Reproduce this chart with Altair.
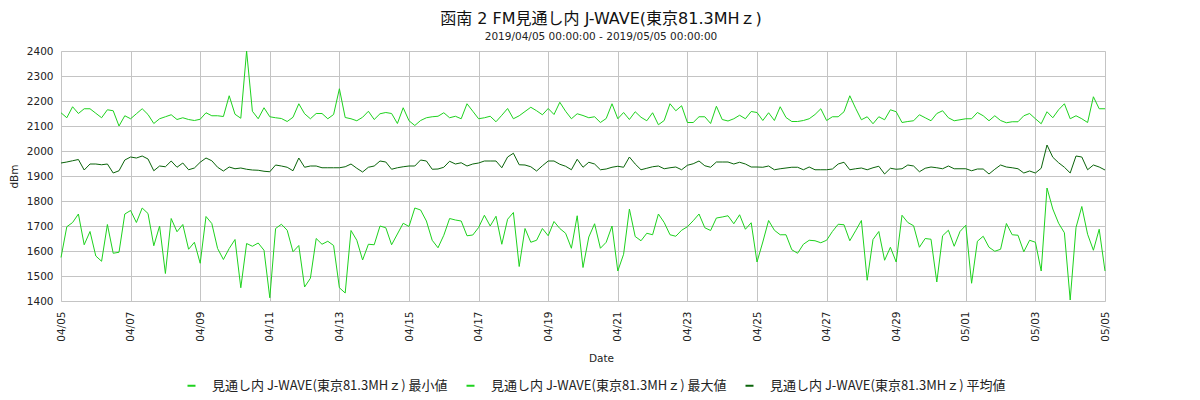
import altair as alt
import pandas as pd

# ---- data (one value every 4 hours, 2019/04/05 00:00 -> 2019/05/05 00:00) ----
START = "2019-04-05 00:00:00"

max_vals = [
    2153, 2133, 2177, 2150, 2169, 2169, 2151, 2133, 2165, 2161,
    2100, 2141, 2129, 2149, 2169, 2146, 2110, 2129, 2137, 2145,
    2126, 2133, 2126, 2122, 2127, 2153, 2141, 2141, 2138, 2221,
    2147, 2131, 2400, 2159, 2129, 2173, 2137, 2133, 2130, 2118,
    2135, 2189, 2149, 2129, 2150, 2150, 2129, 2146, 2249, 2134,
    2129, 2121, 2135, 2159, 2126, 2149, 2154, 2150, 2110, 2173,
    2121, 2102, 2122, 2133, 2137, 2139, 2153, 2133, 2139, 2129,
    2189, 2159, 2129, 2133, 2139, 2117, 2143, 2170, 2129, 2141,
    2158, 2175, 2161, 2145, 2170, 2146, 2195, 2159, 2129, 2149,
    2142, 2133, 2137, 2114, 2130, 2189, 2129, 2154, 2126, 2157,
    2135, 2121, 2153, 2105, 2122, 2189, 2161, 2181, 2114, 2114,
    2137, 2137, 2110, 2179, 2126, 2120, 2129, 2143, 2129, 2158,
    2154, 2122, 2153, 2122, 2177, 2134, 2118, 2118, 2122, 2129,
    2146, 2169, 2122, 2137, 2137, 2157, 2221, 2171, 2125, 2137,
    2109, 2137, 2125, 2165, 2157, 2114, 2118, 2121, 2145, 2133,
    2121, 2150, 2161, 2133, 2121, 2125, 2129, 2129, 2154, 2141,
    2121, 2141, 2122, 2113, 2117, 2117, 2141, 2150, 2129, 2109,
    2157, 2133, 2165, 2189, 2129, 2141, 2129, 2114, 2217, 2169,
    2169,
]

avg_vals = [
    1952, 1956, 1961, 1966, 1924, 1948, 1948, 1945, 1948, 1912,
    1921, 1964, 1976, 1972, 1980, 1968, 1921, 1940, 1937, 1960,
    1935, 1952, 1925, 1932, 1955, 1972, 1961, 1935, 1920, 1936,
    1929, 1932, 1927, 1924, 1923, 1919, 1917, 1944, 1940, 1935,
    1921, 1972, 1935, 1940, 1940, 1933, 1933, 1933, 1933, 1937,
    1948, 1931, 1916, 1935, 1940, 1960, 1956, 1927, 1933, 1937,
    1940, 1940, 1964, 1960, 1927, 1928, 1935, 1959, 1948, 1953,
    1940, 1948, 1952, 1960, 1960, 1960, 1933, 1976, 1991, 1945,
    1944, 1937, 1920, 1941, 1960, 1960, 1947, 1939, 1925, 1967,
    1935, 1955, 1948, 1925, 1928, 1935, 1939, 1935, 1976, 1948,
    1925, 1931, 1937, 1940, 1929, 1933, 1936, 1925, 1943, 1949,
    1960, 1941, 1935, 1956, 1956, 1956, 1948, 1955, 1948, 1936,
    1936, 1935, 1940, 1925, 1929, 1932, 1935, 1935, 1925, 1936,
    1925, 1925, 1925, 1928, 1948, 1955, 1925, 1929, 1932, 1925,
    1933, 1939, 1908, 1931, 1927, 1929, 1944, 1940, 1917, 1931,
    1936, 1933, 1929, 1940, 1929, 1929, 1929, 1921, 1928, 1928,
    1908, 1927, 1944, 1936, 1933, 1929, 1912, 1920, 1912, 1931,
    2024, 1975, 1953, 1935, 1912, 1980, 1976, 1925, 1944, 1936,
    1924,
]

min_vals = [
    1574, 1697, 1714, 1748, 1625, 1678, 1580, 1559, 1706, 1591,
    1595, 1748, 1762, 1714, 1772, 1750, 1621, 1700, 1510, 1730,
    1677, 1706, 1607, 1635, 1551, 1738, 1710, 1610, 1566, 1610,
    1646, 1453, 1630, 1619, 1632, 1603, 1413, 1690, 1707, 1683,
    1597, 1622, 1456, 1491, 1650, 1627, 1639, 1622, 1453, 1432,
    1682, 1643, 1564, 1627, 1625, 1700, 1693, 1625, 1668, 1711,
    1698, 1772, 1764, 1720, 1643, 1613, 1663, 1730, 1724, 1720,
    1661, 1664, 1694, 1743, 1700, 1739, 1627, 1727, 1754, 1538,
    1690, 1635, 1643, 1690, 1661, 1718, 1690, 1671, 1611, 1741,
    1534, 1656, 1709, 1611, 1635, 1700, 1520, 1587, 1768, 1658,
    1641, 1671, 1665, 1748, 1714, 1665, 1659, 1683, 1697, 1721,
    1748, 1693, 1682, 1732, 1736, 1741, 1709, 1745, 1687, 1713,
    1556, 1636, 1722, 1683, 1665, 1665, 1605, 1591, 1627, 1643,
    1641, 1633, 1643, 1678, 1707, 1705, 1641, 1681, 1722, 1483,
    1646, 1678, 1563, 1615, 1556, 1743, 1714, 1701, 1615, 1650,
    1647, 1476, 1661, 1683, 1619, 1678, 1703, 1471, 1639, 1659,
    1615, 1599, 1607, 1710, 1665, 1663, 1597, 1643, 1635, 1520,
    1852, 1768, 1711, 1673, 1404, 1694, 1778, 1667, 1603, 1687,
    1520,
]

series_names = [
    "見通し内 J-WAVE(東京81.3MHｚ) 最小値",
    "見通し内 J-WAVE(東京81.3MHｚ) 最大値",
    "見通し内 J-WAVE(東京81.3MHｚ) 平均値",
]
series_colors = ["#1ed21e", "#1ed21e", "#0a640a"]

title_text = "函南 2 FM見通し内 J-WAVE(東京81.3MHｚ)"
subtitle_text = "2019/04/05 00:00:00 - 2019/05/05 00:00:00"

# ---- long table ----
rows = []
for name, vals in zip(series_names, [min_vals, max_vals, avg_vals]):
    times = pd.date_range(START, periods=len(vals), freq="4h")
    for t, v in zip(times, vals):
        rows.append({"Date": t, "dBm": v, "series": name})
df = pd.DataFrame(rows)

chart = (
    alt.Chart(df)
    .mark_line(strokeWidth=1)
    .encode(
        x=alt.X(
            "Date:T",
            title="Date",
            scale=alt.Scale(
                domain=[
                    alt.DateTime(year=2019, month=4, date=5),
                    alt.DateTime(year=2019, month=5, date=5),
                ],
                nice=False,
            ),
            axis=alt.Axis(
                format="%m/%d",
                tickCount={"interval": "day", "step": 2},
                labelAngle=270,
                labelFlush=False,
                labelOverlap=False,
                labelPadding=10,
                ticks=False,
                tickSize=0,
                domain=False,
                grid=True,
                gridColor="#c4c4c4",
                labelFont="DejaVu Sans",
                labelFontSize=10.5,
                labelColor="#222222",
                titleFont="DejaVu Sans",
                titleFontSize=10.5,
                titleFontWeight="normal",
                titleColor="#222222",
                titleX=540,
                titleY=52,
            ),
        ),
        y=alt.Y(
            "dBm:Q",
            title="dBm",
            scale=alt.Scale(domain=[1400, 2400], nice=False, zero=False),
            axis=alt.Axis(
                values=list(range(1400, 2401, 100)),
                format="d",
                ticks=False,
                tickSize=0,
                domain=False,
                grid=True,
                gridColor="#c4c4c4",
                labelPadding=8,
                labelFont="DejaVu Sans",
                labelFontSize=10.5,
                labelColor="#222222",
                titleFont="DejaVu Sans",
                titleFontSize=10.5,
                titleFontWeight="normal",
                titleColor="#222222",
                titleAngle=270,
                titleAlign="center",
                titleBaseline="middle",
                titleX=-47,
                titleY=125,
            ),
        ),
        color=alt.Color(
            "series:N",
            title=None,
            sort=series_names,
            scale=alt.Scale(domain=series_names, range=series_colors),
            legend=alt.Legend(
                orient="none",
                direction="horizontal",
                legendX=124,
                legendY=328,
                padding=0,
                symbolType="stroke",
                symbolSize=64,
                symbolStrokeWidth=2,
                labelFont="Noto Sans CJK JP",
                labelFontSize=13,
                labelColor="#222222",
                labelOffset=14,
                labelLimit=400,
                columnPadding=14,
            ),
        ),
    )
    .properties(
        width=1044,
        height=250,
        autosize="none",
        padding={"left": 53, "top": 43, "right": 87, "bottom": 96},
        title=alt.Title(
            title_text,
            subtitle=subtitle_text,
            font="DejaVu Sans, Noto Sans CJK JP",
            fontSize=16,
            fontWeight="normal",
            color="#111111",
            subtitleFont="DejaVu Sans",
            subtitleFontSize=10.5,
            subtitleColor="#222222",
            subtitlePadding=5,
            anchor="middle",
            frame="group",
            dx=18,
            offset=4,
        ),
    )
    .configure_view(fill="#f8f8f8", stroke="#a8a8a8", strokeWidth=1)
    .configure(background="white")
)

chart.save("out.html", embed_options={"renderer": "svg", "actions": False})
